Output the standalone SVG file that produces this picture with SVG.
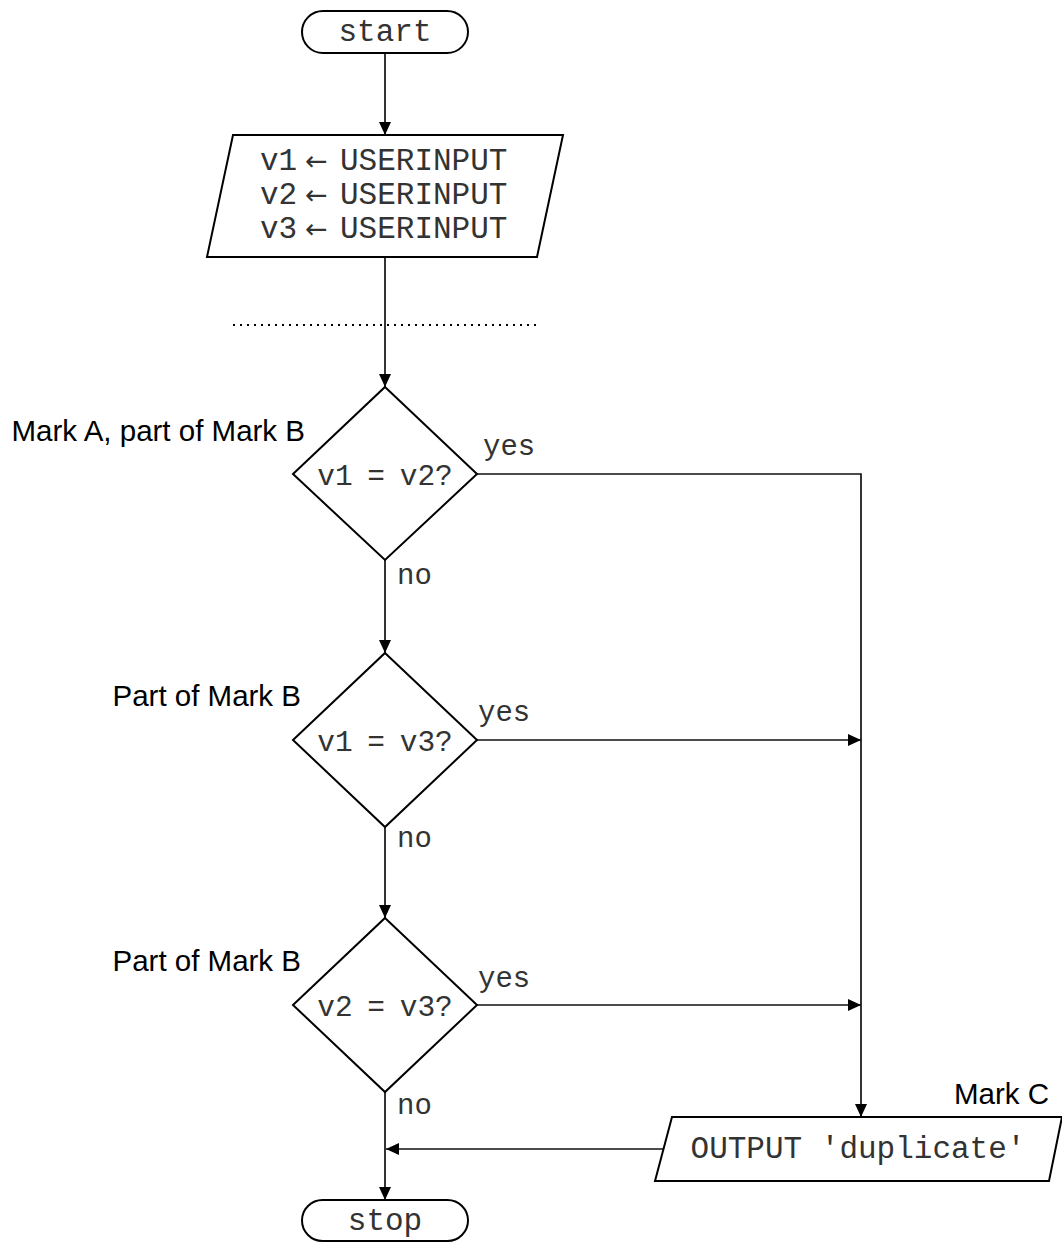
<svg xmlns="http://www.w3.org/2000/svg" width="1062" height="1246" viewBox="0 0 1062 1246">
<style>
.shape{fill:#fff;stroke:#000;stroke-width:2;}
.conn{fill:none;stroke:#111;stroke-width:1.7;}
.mono{font-family:"Liberation Mono","Courier New",monospace;fill:#333;}
.big{font-size:31px;}
.dia{font-size:29.5px;word-spacing:-3px;}
.lbl{font-size:29px;}
.arr{font-family:"DejaVu Sans",sans-serif;font-size:27px;}
.sans{font-family:"Liberation Sans",Arial,sans-serif;font-size:29.5px;fill:#000;}
</style>
<defs>
<marker id="ah" markerUnits="userSpaceOnUse" markerWidth="14" markerHeight="14" viewBox="0 0 14 14" refX="13" refY="7" orient="auto">
<path d="M0,1 L13,7 L0,13 Z" fill="#000"/>
</marker>
</defs>
<rect width="1062" height="1246" fill="#fff"/>
<g id="connectors">
<line class="conn" x1="385" y1="53" x2="385" y2="135" marker-end="url(#ah)"/>
<line class="conn" x1="385" y1="257" x2="385" y2="387" marker-end="url(#ah)"/>
<line class="conn" x1="385" y1="560" x2="385" y2="653" marker-end="url(#ah)"/>
<line class="conn" x1="385" y1="827" x2="385" y2="918" marker-end="url(#ah)"/>
<line class="conn" x1="385" y1="1092" x2="385" y2="1200" marker-end="url(#ah)"/>
<polyline class="conn" points="477,474 861,474 861,1117" marker-end="url(#ah)"/>
<line class="conn" x1="477" y1="740" x2="861" y2="740" marker-end="url(#ah)"/>
<line class="conn" x1="477" y1="1005" x2="861" y2="1005" marker-end="url(#ah)"/>
<line class="conn" x1="663" y1="1149" x2="386" y2="1149" marker-end="url(#ah)"/>
<line x1="233" y1="325" x2="537" y2="325" stroke="#000" stroke-width="2" stroke-dasharray="2 5"/>
<text class="mono lbl" x="483" y="455">yes</text>
<text class="mono lbl" x="478" y="721">yes</text>
<text class="mono lbl" x="478" y="987">yes</text>
<text class="mono lbl" x="397" y="584">no</text>
<text class="mono lbl" x="397" y="847">no</text>
<text class="mono lbl" x="397" y="1114">no</text>
</g>
<g id="start">
<rect class="shape" x="302" y="11" width="166" height="42" rx="21"/>
<text class="mono big" x="385" y="41" text-anchor="middle">start</text>
</g>
<g id="input">
<polygon class="shape" points="233,135 563,135 537,257 207,257"/>
<text class="mono big" y="170"><tspan x="260">v1</tspan><tspan class="arr" x="305" fill="#333">←</tspan><tspan x="340">USERINPUT</tspan></text>
<text class="mono big" y="204"><tspan x="260">v2</tspan><tspan class="arr" x="305" fill="#333">←</tspan><tspan x="340">USERINPUT</tspan></text>
<text class="mono big" y="238"><tspan x="260">v3</tspan><tspan class="arr" x="305" fill="#333">←</tspan><tspan x="340">USERINPUT</tspan></text>
</g>
<g id="d1">
<polygon class="shape" points="385,387 477,474 385,560 293,474"/>
<text class="mono dia" x="385" y="485" text-anchor="middle">v1 = v2?</text>
<text class="sans" x="305" y="441" text-anchor="end">Mark A, part of Mark B</text>
</g>
<g id="d2">
<polygon class="shape" points="385,653 477,740 385,827 293,740"/>
<text class="mono dia" x="385" y="751" text-anchor="middle">v1 = v3?</text>
<text class="sans" x="301" y="706" text-anchor="end">Part of Mark B</text>
</g>
<g id="d3">
<polygon class="shape" points="385,918 477,1005 385,1092 293,1005"/>
<text class="mono dia" x="385" y="1016" text-anchor="middle">v2 = v3?</text>
<text class="sans" x="301" y="971" text-anchor="end">Part of Mark B</text>
</g>
<g id="output">
<polygon class="shape" points="672,1117 1062,1117 1049,1181 655,1181"/>
<text class="mono big" x="858" y="1158" text-anchor="middle">OUTPUT 'duplicate'</text>
<text class="sans" x="1049" y="1104" text-anchor="end">Mark C</text>
</g>
<g id="stop">
<rect class="shape" x="302" y="1200" width="166" height="41" rx="20.5"/>
<text class="mono big" x="385" y="1230" text-anchor="middle">stop</text>
</g>
</svg>
